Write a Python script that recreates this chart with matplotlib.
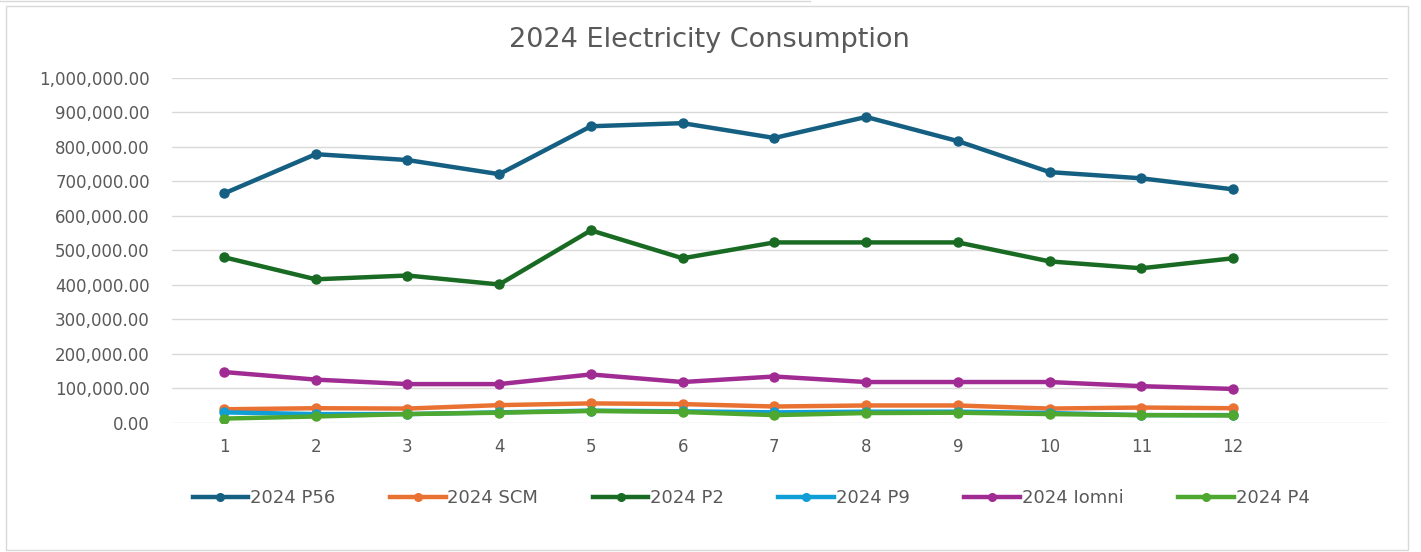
import matplotlib.pyplot as plt
from matplotlib.ticker import FuncFormatter
from matplotlib.lines import Line2D
from matplotlib.patches import Rectangle

# Monthly consumption per site, 2024
months = list(range(1, 13))
p56 = [665000, 779000, 762000, 721000, 860000, 869000, 826000, 887000, 817000, 727000, 709000, 677000]
scm = [39000, 42000, 41000, 51000, 56000, 54000, 47000, 50000, 50000, 41000, 44000, 42000]
p2 = [480000, 416000, 427000, 401000, 558000, 477000, 523000, 523000, 523000, 468000, 448000, 477000]
p9 = [30000, 25000, 25000, 30000, 35000, 33000, 30000, 32000, 32000, 28000, 22000, 22000]
iomni = [147000, 125000, 112000, 112000, 140000, 118000, 134000, 118000, 118000, 118000, 106000, 98000]
p4 = [12000, 18000, 25000, 29000, 34000, 31000, 22000, 28000, 29000, 25000, 22000, 21000]

series = [
    ("2024 P56", p56, "#156082"),
    ("2024 SCM", scm, "#E97132"),
    ("2024 P2", p2, "#196B24"),
    ("2024 P9", p9, "#0F9ED5"),
    ("2024 Iomni", iomni, "#A02B93"),
    ("2024 P4", p4, "#4EA72E"),
]

W, H = 1421, 552
fig = plt.figure(figsize=(W / 100, H / 100), dpi=100)
ax = fig.add_axes([172 / W, 1 - 422.7 / H, (1388 - 172) / W, (422.7 - 78) / H])

for name, vals, col in series:
    ax.plot(months, vals, color=col, lw=3.2, marker="o", ms=6.5, label=name,
            solid_capstyle="round", zorder=3)

ax.set_ylim(0, 1000000)
ax.set_yticks(range(0, 1000001, 100000))
ax.set_xlim(0.433, 13.69)
ax.set_xticks(months)
ax.yaxis.set_major_formatter(FuncFormatter(lambda v, p: f"{v:,.2f}"))
ax.grid(axis="y", color="#d9d9d9", lw=1)
ax.set_axisbelow(True)
for s in ax.spines.values():
    s.set_visible(False)
ax.tick_params(length=0, colors="#595959", labelsize=12)
ax.tick_params(axis="y", pad=16)
ax.tick_params(axis="x", pad=11)

fig.text(709 / W, 1 - 40 / H, "2024 Electricity Consumption", ha="center", va="center",
         fontsize=19.5, color="#595959")

handles = [Line2D([], [], color=c, lw=3.2, marker="o", ms=5.5) for _, _, c in series]
fig.legend(handles, [s[0] for s in series], loc="center", ncol=6,
           bbox_to_anchor=(751 / W, 1 - 498 / H), frameon=False, handlelength=3.1,
           columnspacing=3.0, handletextpad=0.1,
           prop={"family": "DejaVu Sans", "size": 13},
           labelcolor="#595959")

# chart frame
fig.patches.append(Rectangle((6 / W, 2 / H), (1408 - 6) / W, (546 - 2) / H,
                             transform=fig.transFigure, fill=False, ec="#d9d9d9", lw=1))
fig.add_artist(Line2D([0, 810 / W], [1 - 1 / H, 1 - 1 / H], transform=fig.transFigure,
                      color="#d9d9d9", lw=1))

fig.savefig("out.png", dpi=100)
